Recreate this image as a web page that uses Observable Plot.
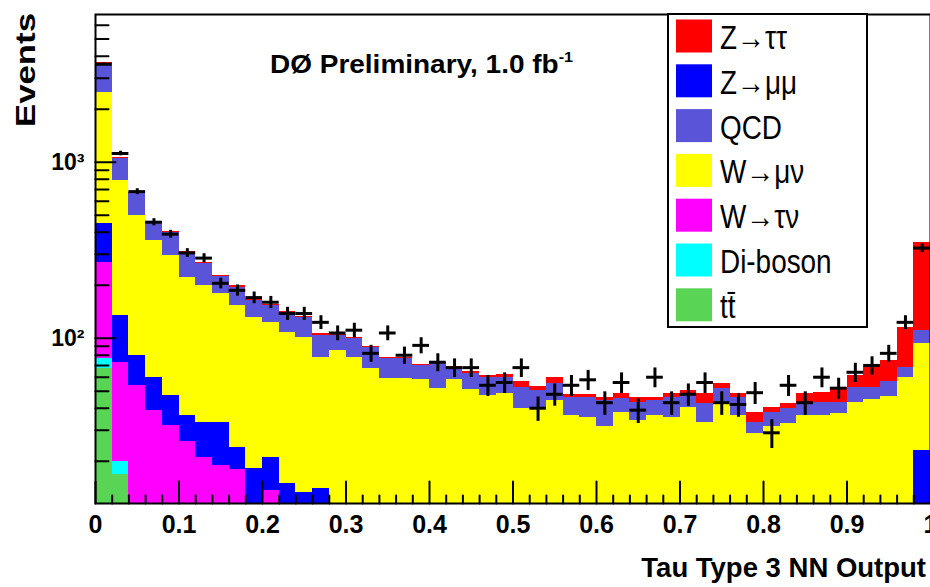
<!DOCTYPE html>
<html><head><meta charset="utf-8">
<script src="https://cdn.jsdelivr.net/npm/d3@7"></script>
<script src="https://cdn.jsdelivr.net/npm/@observablehq/plot@0.6"></script>
<style>
body{margin:0;background:#fff;}
svg{display:block;}
</style></head><body><div id="chart"></div>
<script>
// ---- data (events per 0.02 bin) ----
const nBins = 50, binWidth = 0.02;
const ttbar   = [67,16.7,0,0,0,0,0,0,0,0, 0,0,0,0,0,0,0,0,0,0, 0,0,0,0,0,0,0,0,0,0, 0,0,0,0,0,0,0,0,0,0, 0,0,0,0,0,0,0,0,0,0];
const diboson = [10,3.3,0,0,0,0,0,0,0,0, 0,0,0,0,0,0,0,0,0,0, 0,0,0,0,0,0,0,0,0,0, 0,0,0,0,0,0,0,0,0,0, 0,0,0,0,0,0,0,0,0,0];
const wtaunu  = [193,53,54,39,32,26,21,19,18,9, 13.7,0,0,0,0,0,0,0,0,0, 0,0,0,0,0,0,0,0,0,0, 0,0,0,0,0,0,0,0,0,0, 0,0,0,0,0,0,0,0,0,0];
const zmumu   = [180,62,26,21,15.5,10.5,12,14,6,9.2, 7.3,15,13.2,14,0,0,0,0,0,0, 0,0,0,0,0,0,0,0,0,0, 0,0,0,0,0,0,0,0,0,0, 0,0,0,0,0,0,0,0,0,23];
const wmunu   = [2050,655,420,300,248,186,167,147,130,113, 101,93,88,64,85,78,67,59,59,58, 52,58,51,47.5,48.7,40,40.6,44.5,36.5,35.6, 31.3,38,34.2,36.5,35.6,40.6,33.3,43.3,36.5,28.8, 31.3,32.8,36.5,36.5,37.5,43.3,45,46.8,60.1,70.6];
const qcd     = [1150,260,167,96,104,86,67,45,41,33, 32,32,30,26,19,22,22,18,18,12, 20,10,12.3,12.5,11.3,12.7,10.1,11,9.5,10.4, 12.7,7.6,9.1,8,10.6,8.1,9.4,8.7,9.7,4.5, 6.7,7.2,6.2,6.8,5.8,9.4,7.7,10.2,8.3,17.3];
const ztautau = [40,10,5,4,5,2,3,3,3,2, 2,2,2,2,1,1,1,1,1,1, 1,1,1,1,2,4.3,2.3,4.5,2,2, 2,3.1,2.7,1.5,2.5,2,6,3.5,2.5,4.7, 2.6,2.7,6,6,9.4,8.9,16.6,18,46.6,240];
const dataCounts = [3600,1120,680,456,390,305,285,205,187,170, 160,138,138,123,107,111,82,107,80,91, 73,68,68,54,56,68,40,48,54,58, 43,56,39,60,43,48,56,43,42,49, 29,54,43,60,52,64,70,82,123,325];

const xTicks = [0,0.1,0.2,0.3,0.4,0.5,0.6,0.7,0.8,0.9,1];
const xTickLabels = ["0","0.1","0.2","0.3","0.4","0.5","0.6","0.7","0.8","0.9","1"];
const yTicks = [100,1000];
const yTickLabels = ["10²","10³"];
const yMinorTicks = [20,30,40,50,60,70,80,90,200,300,400,500,600,700,800,900,2000,3000,4000,5000,6000];
const legendLabels = ["Z→ττ","Z→μμ","QCD","W→μν","W→τν","Di-boson","tt̄"];
const legendColors = ["#ff0000","#0000ff","#5954d8","#ffff00","#ff00ff","#00ffff","#59d454"];

const yMin = 11.5, yMax = 6900;

// stack order, bottom to top
const stack = [
  {values: ttbar,   color: "#59d454"},
  {values: diboson, color: "#00ffff"},
  {values: wtaunu,  color: "#ff00ff"},
  {values: zmumu,   color: "#0000ff"},
  {values: wmunu,   color: "#ffff00"},
  {values: qcd,     color: "#5954d8"},
  {values: ztautau, color: "#ff0000"}
];
const bins = d3.range(nBins).map(i => ({i, x1: i*binWidth, x2: (i+1)*binWidth, xc: (i+0.5)*binWidth}));
let cum = new Array(nBins).fill(0);
const layers = stack.map(s => { cum = cum.map((c,i) => c + s.values[i]); return {color: s.color, top: cum.slice()}; });
const rectMarks = layers.slice().reverse().map(l =>
  Plot.rectY(bins.filter(b => l.top[b.i] > yMin), {
    x1: "x1", x2: "x2", y1: yMin, y2: b => l.top[b.i],
    fill: l.color, shapeRendering: "crispEdges", clip: true
  }));

const xMinor = d3.range(1, nBins).map(i => i*binWidth).filter((v,i) => (i+1) % 5 !== 0);
const tickShape = {draw(context, l) { context.moveTo(0, 0); context.lineTo(0, -l); }};

const plot = Plot.plot({
  width: 930, height: 587,
  marginLeft: 95, marginRight: 0, marginTop: 14, marginBottom: 84,
  x: {domain: [0, 1], axis: null},
  y: {type: "log", domain: [yMin, yMax], axis: null},
  style: {fontFamily: "'Liberation Sans', Arial, sans-serif", background: "white"},
  marks: [
    ...rectMarks,
    Plot.ruleY(bins, {x1: "x1", x2: "x2", y: b => dataCounts[b.i], stroke: "black", strokeWidth: 3}),
    Plot.ruleX(bins, {x: "xc", y1: b => Math.max(yMin, dataCounts[b.i] - Math.sqrt(dataCounts[b.i])), y2: b => dataCounts[b.i] + Math.sqrt(dataCounts[b.i]), stroke: "black", strokeWidth: 3}),
    Plot.vector(xTicks, {x: d => d, frameAnchor: "bottom", length: 22, anchor: "start", shape: tickShape, stroke: "black", strokeWidth: 2}),
    Plot.vector(xMinor, {x: d => d, frameAnchor: "bottom", length: 8, anchor: "start", shape: tickShape, stroke: "black", strokeWidth: 2}),
    Plot.vector(yTicks, {y: d => d, frameAnchor: "left", length: 20, rotate: 90, anchor: "start", shape: tickShape, stroke: "black", strokeWidth: 2}),
    Plot.vector(yMinorTicks, {y: d => d, frameAnchor: "left", length: 13, rotate: 90, anchor: "start", shape: tickShape, stroke: "black", strokeWidth: 2}),
    Plot.frame({stroke: "black", strokeWidth: 2}),
    Plot.text(xTicks, {x: d => d, frameAnchor: "bottom", dy: 12, lineAnchor: "top", text: (d, i) => xTickLabels[i], fontSize: 25, fontWeight: "bold", fill: "black", ariaLabel: "xticklabels"}),
    Plot.text(yTicks, {y: d => d, frameAnchor: "left", dx: -11, textAnchor: "end", lineAnchor: "middle", text: (d, i) => yTickLabels[i], fontSize: 23, fontWeight: "bold", fill: "black", ariaLabel: "yticklabels"})
  ]
});
document.getElementById("chart").appendChild(plot);

const svg = d3.select(plot);
function condense(sel, f) {
  sel.each(function() {
    const w = this.getComputedTextLength();
    this.setAttribute("textLength", (w * f).toFixed(1));
    this.setAttribute("lengthAdjust", "spacingAndGlyphs");
  });
}
condense(svg.selectAll('g[aria-label="xticklabels"] text'), 0.83);
condense(svg.selectAll('g[aria-label="yticklabels"] text'), 0.85);

const font = "'Liberation Sans', Arial, sans-serif";

// y title
svg.append("text").attr("transform", "translate(35,13) rotate(-90)")
  .attr("text-anchor", "end").attr("font-family", font).attr("font-weight", "bold")
  .attr("font-size", 28).attr("textLength", 114).attr("lengthAdjust", "spacingAndGlyphs").text("Events");
// x title
svg.append("text").attr("x", 926).attr("y", 577)
  .attr("text-anchor", "end").attr("font-family", font).attr("font-weight", "bold")
  .attr("font-size", 27.5).text("Tau Type 3 NN Output");
// title
const t = svg.append("text").attr("x", 270).attr("y", 73).attr("text-anchor", "start")
  .attr("font-family", font).attr("font-weight", "bold").attr("font-size", 26)
  .attr("textLength", 303).attr("lengthAdjust", "spacingAndGlyphs");
t.append("tspan").text("DØ Preliminary, 1.0 fb");
t.append("tspan").attr("dy", -11).attr("font-size", 15).text("-1");

// legend
const lg = svg.append("g").attr("text-anchor", "start");
lg.append("rect").attr("x", 668).attr("y", 14).attr("width", 199).attr("height", 313)
  .attr("fill", "white").attr("stroke", "black").attr("stroke-width", 2);
legendLabels.forEach((lab, i) => {
  const cy = 36 + 44.8 * i;
  lg.append("rect").attr("x", 676).attr("y", cy - 16.5).attr("width", 36).attr("height", 33).attr("fill", legendColors[i]);
  const tx = lg.append("text").attr("x", 720).attr("y", cy + 13).attr("text-anchor", "start")
    .attr("font-family", font).attr("font-size", 34).attr("fill", "black").text(lab);
  condense(tx, 0.82);
});
</script></body></html>
